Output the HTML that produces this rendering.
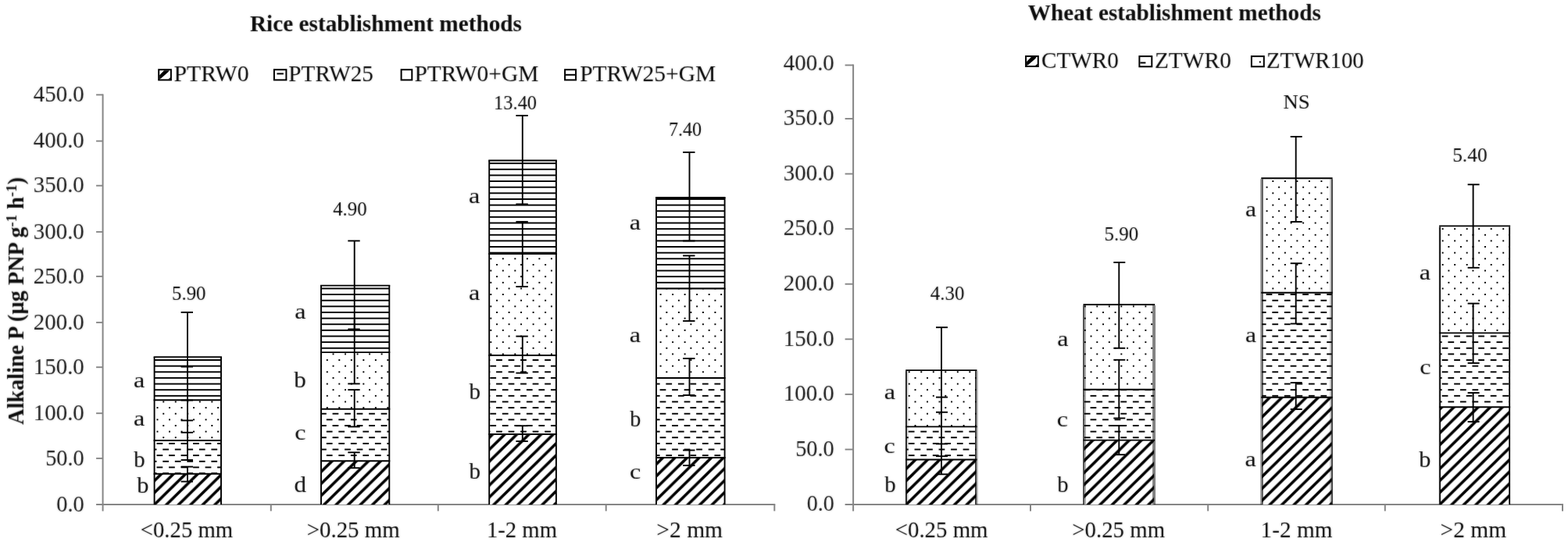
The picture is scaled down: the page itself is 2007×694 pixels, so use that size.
<!DOCTYPE html>
<html lang="en"><head><meta charset="utf-8"><title>Alkaline P chart</title>
<style>
html,body{margin:0;padding:0;background:#fff}
svg{display:block;font-family:'Liberation Serif', serif}
</style></head>
<body>
<svg width="2007" height="694" viewBox="0 0 2007 694">
<filter id="soft" x="0" y="0" width="2007" height="694" filterUnits="userSpaceOnUse" color-interpolation-filters="sRGB"><feGaussianBlur stdDeviation="0.8" result="b"/><feComposite in="SourceGraphic" in2="b" operator="arithmetic" k1="0" k2="0.65" k3="0.35" k4="0"/></filter>
<rect width="2007" height="694" fill="#fff"/>
<defs>
<pattern id="dots" patternUnits="userSpaceOnUse" x="14.29" y="2.156" width="15.52" height="15.264"><rect width="15.52" height="15.264" fill="#fff"/><rect x="0" y="0" width="1.94" height="1.908"/><rect x="7.76" y="7.632" width="1.94" height="1.908"/></pattern>
<pattern id="dash" patternUnits="userSpaceOnUse" x="14.29" y="2.156" width="15.52" height="15.264"><rect width="15.52" height="15.264" fill="#fff"/><rect x="0" y="0" width="7.76" height="1.908"/><rect x="7.76" y="7.632" width="7.76" height="1.908"/></pattern>
<pattern id="hl" patternUnits="userSpaceOnUse" x="14.29" y="2.156" width="15.52" height="15.264"><rect width="15.52" height="15.264" fill="#fff"/><rect x="0" y="0" width="15.52" height="1.908"/><rect x="0" y="7.632" width="15.52" height="1.908"/></pattern>
<pattern id="diag" patternUnits="userSpaceOnUse" x="4.858" y="8.976" width="15.52" height="15.264"><rect width="15.52" height="15.264" fill="#fff"/><polygon points="-15.52,15.264 -10.476,15.264 5.044,0 0,0"/><polygon points="0,15.264 5.044,15.264 20.564,0 15.52,0"/><polygon points="15.52,15.264 20.564,15.264 36.084,0 31.04,0"/></pattern>
</defs>
<line x1="131.6" y1="120.5" x2="131.6" y2="654.4" stroke="#868686" stroke-width="2"/>
<line x1="123.1" y1="646.1" x2="992.3" y2="646.1" stroke="#868686" stroke-width="2"/>
<line x1="123.1" y1="586.9" x2="131.6" y2="586.9" stroke="#868686" stroke-width="1.9"/>
<line x1="123.1" y1="529.2" x2="131.6" y2="529.2" stroke="#868686" stroke-width="1.9"/>
<line x1="123.1" y1="470.2" x2="131.6" y2="470.2" stroke="#868686" stroke-width="1.9"/>
<line x1="123.1" y1="412.9" x2="131.6" y2="412.9" stroke="#868686" stroke-width="1.9"/>
<line x1="123.1" y1="353.9" x2="131.6" y2="353.9" stroke="#868686" stroke-width="1.9"/>
<line x1="123.1" y1="296.9" x2="131.6" y2="296.9" stroke="#868686" stroke-width="1.9"/>
<line x1="123.1" y1="237.7" x2="131.6" y2="237.7" stroke="#868686" stroke-width="1.9"/>
<line x1="123.1" y1="180.6" x2="131.6" y2="180.6" stroke="#868686" stroke-width="1.9"/>
<line x1="123.1" y1="121.4" x2="131.6" y2="121.4" stroke="#868686" stroke-width="1.9"/>
<line x1="346.8" y1="646.1" x2="346.8" y2="654.4" stroke="#868686" stroke-width="2"/>
<line x1="560.8" y1="646.1" x2="560.8" y2="654.4" stroke="#868686" stroke-width="2"/>
<line x1="775.7" y1="646.1" x2="775.7" y2="654.4" stroke="#868686" stroke-width="2"/>
<line x1="991.3" y1="646.1" x2="991.3" y2="654.4" stroke="#868686" stroke-width="2"/>
<rect x="203.2" y="89.2" width="15.7" height="13.2" fill="#fff" stroke="#000" stroke-width="2"/>
<polygon points="204.2,96.2 210,90.2 216.6,90.2 215.5,92.1 206.5,100.1 204.2,101.4" fill="#000"/>
<polygon points="217.9,99.2 217.9,101.4 215.3,101.4" fill="#000"/>
<rect x="350.9" y="89.2" width="15.5" height="13.2" fill="#fff" stroke="#000" stroke-width="2"/>
<line x1="354.4" y1="94.4" x2="362.9" y2="94.4" stroke="#000" stroke-width="2"/>
<rect x="513.6" y="89.2" width="13.7" height="13.2" fill="#fff" stroke="#000" stroke-width="2"/>
<rect x="723.1" y="89.2" width="14" height="13.2" fill="#fff" stroke="#000" stroke-width="2"/>
<line x1="723.1" y1="95.8" x2="737.1" y2="95.8" stroke="#000" stroke-width="2"/>
<rect x="197.6" y="606.8" width="85.4" height="39.3" fill="url(#diag)"/>
<rect x="197.6" y="564" width="85.4" height="42.8" fill="url(#dash)"/>
<rect x="197.6" y="512.3" width="85.4" height="51.7" fill="url(#dots)"/>
<rect x="197.6" y="457.1" width="85.4" height="55.2" fill="url(#hl)"/>
<line x1="196.65" y1="606.8" x2="283.95" y2="606.8" stroke="#000" stroke-width="1.9"/>
<line x1="196.65" y1="564" x2="283.95" y2="564" stroke="#000" stroke-width="1.9"/>
<line x1="196.65" y1="512.3" x2="283.95" y2="512.3" stroke="#000" stroke-width="1.9"/>
<line x1="196.65" y1="457.1" x2="283.95" y2="457.1" stroke="#000" stroke-width="1.9"/>
<line x1="197.6" y1="646.1" x2="197.6" y2="457.1" stroke="#000" stroke-width="1.9"/>
<line x1="283" y1="646.1" x2="283" y2="457.1" stroke="#000" stroke-width="1.9"/>
<rect x="411" y="590.2" width="87.3" height="55.9" fill="url(#diag)"/>
<rect x="411" y="523.8" width="87.3" height="66.4" fill="url(#dash)"/>
<rect x="411" y="451.1" width="87.3" height="72.7" fill="url(#dots)"/>
<rect x="411" y="365.6" width="87.3" height="85.5" fill="url(#hl)"/>
<line x1="410.05" y1="590.2" x2="499.25" y2="590.2" stroke="#000" stroke-width="1.9"/>
<line x1="410.05" y1="523.8" x2="499.25" y2="523.8" stroke="#000" stroke-width="1.9"/>
<line x1="410.05" y1="451.1" x2="499.25" y2="451.1" stroke="#000" stroke-width="1.9"/>
<line x1="410.05" y1="365.6" x2="499.25" y2="365.6" stroke="#000" stroke-width="1.9"/>
<line x1="411" y1="646.1" x2="411" y2="365.6" stroke="#000" stroke-width="1.9"/>
<line x1="498.3" y1="646.1" x2="498.3" y2="365.6" stroke="#000" stroke-width="1.9"/>
<rect x="626.2" y="556" width="85.7" height="90.1" fill="url(#diag)"/>
<rect x="626.2" y="455" width="85.7" height="101" fill="url(#dash)"/>
<rect x="626.2" y="325" width="85.7" height="130" fill="url(#dots)"/>
<rect x="626.2" y="205.5" width="85.7" height="119.5" fill="url(#hl)"/>
<line x1="625.25" y1="556" x2="712.85" y2="556" stroke="#000" stroke-width="1.9"/>
<line x1="625.25" y1="455" x2="712.85" y2="455" stroke="#000" stroke-width="1.9"/>
<line x1="625.25" y1="325" x2="712.85" y2="325" stroke="#000" stroke-width="1.9"/>
<line x1="625.25" y1="205.5" x2="712.85" y2="205.5" stroke="#000" stroke-width="1.9"/>
<line x1="626.2" y1="646.1" x2="626.2" y2="205.5" stroke="#000" stroke-width="1.9"/>
<line x1="711.9" y1="646.1" x2="711.9" y2="205.5" stroke="#000" stroke-width="1.9"/>
<rect x="840" y="586" width="87.6" height="60.1" fill="url(#diag)"/>
<rect x="840" y="484" width="87.6" height="102" fill="url(#dash)"/>
<rect x="840" y="369.6" width="87.6" height="114.4" fill="url(#dots)"/>
<rect x="840" y="253" width="87.6" height="116.6" fill="url(#hl)"/>
<line x1="839.05" y1="586" x2="928.55" y2="586" stroke="#000" stroke-width="1.9"/>
<line x1="839.05" y1="484" x2="928.55" y2="484" stroke="#000" stroke-width="1.9"/>
<line x1="839.05" y1="369.6" x2="928.55" y2="369.6" stroke="#000" stroke-width="1.9"/>
<line x1="839.05" y1="253" x2="928.55" y2="253" stroke="#000" stroke-width="1.9"/>
<line x1="840" y1="646.1" x2="840" y2="253" stroke="#000" stroke-width="1.9"/>
<line x1="927.6" y1="646.1" x2="927.6" y2="253" stroke="#000" stroke-width="1.9"/>
<line x1="240" y1="399.9" x2="240" y2="512.5" stroke="#000" stroke-width="1.9"/>
<line x1="231.6" y1="399.9" x2="247" y2="399.9" stroke="#000" stroke-width="1.9"/>
<line x1="231.6" y1="512.5" x2="247" y2="512.5" stroke="#000" stroke-width="1.9"/>
<line x1="240" y1="469.6" x2="240" y2="553.8" stroke="#000" stroke-width="1.9"/>
<line x1="231.6" y1="469.6" x2="247" y2="469.6" stroke="#000" stroke-width="1.9"/>
<line x1="231.6" y1="553.8" x2="247" y2="553.8" stroke="#000" stroke-width="1.9"/>
<line x1="240" y1="538.4" x2="240" y2="589" stroke="#000" stroke-width="1.9"/>
<line x1="231.6" y1="538.4" x2="247" y2="538.4" stroke="#000" stroke-width="1.9"/>
<line x1="231.6" y1="589" x2="247" y2="589" stroke="#000" stroke-width="1.9"/>
<line x1="240" y1="597.6" x2="240" y2="616.6" stroke="#000" stroke-width="1.9"/>
<line x1="231.6" y1="597.6" x2="247" y2="597.6" stroke="#000" stroke-width="1.9"/>
<line x1="231.6" y1="616.6" x2="247" y2="616.6" stroke="#000" stroke-width="1.9"/>
<line x1="453.7" y1="308.4" x2="453.7" y2="421.5" stroke="#000" stroke-width="1.9"/>
<line x1="445.3" y1="308.4" x2="460.7" y2="308.4" stroke="#000" stroke-width="1.9"/>
<line x1="445.3" y1="421.5" x2="460.7" y2="421.5" stroke="#000" stroke-width="1.9"/>
<line x1="453.7" y1="409" x2="453.7" y2="491.4" stroke="#000" stroke-width="1.9"/>
<line x1="445.3" y1="491.4" x2="460.7" y2="491.4" stroke="#000" stroke-width="1.9"/>
<line x1="453.7" y1="499.1" x2="453.7" y2="546.4" stroke="#000" stroke-width="1.9"/>
<line x1="445.3" y1="499.1" x2="460.7" y2="499.1" stroke="#000" stroke-width="1.9"/>
<line x1="445.3" y1="546.4" x2="460.7" y2="546.4" stroke="#000" stroke-width="1.9"/>
<line x1="453.7" y1="579.3" x2="453.7" y2="599.2" stroke="#000" stroke-width="1.9"/>
<line x1="445.3" y1="579.3" x2="460.7" y2="579.3" stroke="#000" stroke-width="1.9"/>
<line x1="445.3" y1="599.2" x2="460.7" y2="599.2" stroke="#000" stroke-width="1.9"/>
<line x1="668.8" y1="148" x2="668.8" y2="261.4" stroke="#000" stroke-width="1.9"/>
<line x1="660.4" y1="148" x2="675.8" y2="148" stroke="#000" stroke-width="1.9"/>
<line x1="660.4" y1="261.4" x2="675.8" y2="261.4" stroke="#000" stroke-width="1.9"/>
<line x1="668.8" y1="283.9" x2="668.8" y2="367" stroke="#000" stroke-width="1.9"/>
<line x1="660.4" y1="283.9" x2="675.8" y2="283.9" stroke="#000" stroke-width="1.9"/>
<line x1="660.4" y1="367" x2="675.8" y2="367" stroke="#000" stroke-width="1.9"/>
<line x1="668.8" y1="430.6" x2="668.8" y2="477.6" stroke="#000" stroke-width="1.9"/>
<line x1="660.4" y1="430.6" x2="675.8" y2="430.6" stroke="#000" stroke-width="1.9"/>
<line x1="660.4" y1="477.6" x2="675.8" y2="477.6" stroke="#000" stroke-width="1.9"/>
<line x1="668.8" y1="545.2" x2="668.8" y2="565" stroke="#000" stroke-width="1.9"/>
<line x1="660.4" y1="545.2" x2="675.8" y2="545.2" stroke="#000" stroke-width="1.9"/>
<line x1="660.4" y1="565" x2="675.8" y2="565" stroke="#000" stroke-width="1.9"/>
<line x1="882.5" y1="195" x2="882.5" y2="308.5" stroke="#000" stroke-width="1.9"/>
<line x1="874.1" y1="195" x2="889.5" y2="195" stroke="#000" stroke-width="1.9"/>
<line x1="874.1" y1="308.5" x2="889.5" y2="308.5" stroke="#000" stroke-width="1.9"/>
<line x1="882.5" y1="327.4" x2="882.5" y2="411" stroke="#000" stroke-width="1.9"/>
<line x1="874.1" y1="327.4" x2="889.5" y2="327.4" stroke="#000" stroke-width="1.9"/>
<line x1="874.1" y1="411" x2="889.5" y2="411" stroke="#000" stroke-width="1.9"/>
<line x1="882.5" y1="459" x2="882.5" y2="506" stroke="#000" stroke-width="1.9"/>
<line x1="874.1" y1="459" x2="889.5" y2="459" stroke="#000" stroke-width="1.9"/>
<line x1="874.1" y1="506" x2="889.5" y2="506" stroke="#000" stroke-width="1.9"/>
<line x1="882.5" y1="576.5" x2="882.5" y2="596" stroke="#000" stroke-width="1.9"/>
<line x1="874.1" y1="576.5" x2="889.5" y2="576.5" stroke="#000" stroke-width="1.9"/>
<line x1="874.1" y1="596" x2="889.5" y2="596" stroke="#000" stroke-width="1.9"/>
<line x1="1092.1" y1="82.45" x2="1092.1" y2="654.4" stroke="#868686" stroke-width="2"/>
<line x1="1081.6" y1="646.1" x2="2001" y2="646.1" stroke="#868686" stroke-width="2"/>
<line x1="1081.6" y1="575.5" x2="1092.1" y2="575.5" stroke="#868686" stroke-width="1.9"/>
<line x1="1081.6" y1="504.9" x2="1092.1" y2="504.9" stroke="#868686" stroke-width="1.9"/>
<line x1="1081.6" y1="434.3" x2="1092.1" y2="434.3" stroke="#868686" stroke-width="1.9"/>
<line x1="1081.6" y1="363.7" x2="1092.1" y2="363.7" stroke="#868686" stroke-width="1.9"/>
<line x1="1081.6" y1="293.1" x2="1092.1" y2="293.1" stroke="#868686" stroke-width="1.9"/>
<line x1="1081.6" y1="222.6" x2="1092.1" y2="222.6" stroke="#868686" stroke-width="1.9"/>
<line x1="1081.6" y1="152" x2="1092.1" y2="152" stroke="#868686" stroke-width="1.9"/>
<line x1="1081.6" y1="83.45" x2="1092.1" y2="83.45" stroke="#868686" stroke-width="1.9"/>
<line x1="1319" y1="646.1" x2="1319" y2="654.4" stroke="#868686" stroke-width="2"/>
<line x1="1546.2" y1="646.1" x2="1546.2" y2="654.4" stroke="#868686" stroke-width="2"/>
<line x1="1772.8" y1="646.1" x2="1772.8" y2="654.4" stroke="#868686" stroke-width="2"/>
<line x1="2000" y1="646.1" x2="2000" y2="654.4" stroke="#868686" stroke-width="2"/>
<rect x="1313.1" y="72" width="15.7" height="13" fill="#fff" stroke="#000" stroke-width="2"/>
<polygon points="1314.1,79 1319.9,73 1326.5,73 1325.4,74.9 1316.4,82.7 1314.1,84" fill="#000"/>
<polygon points="1327.8,81.8 1327.8,84 1325.2,84" fill="#000"/>
<rect x="1458.4" y="72.1" width="15.9" height="13.2" fill="#fff" stroke="#000" stroke-width="2"/>
<line x1="1459.4" y1="80.4" x2="1466.4" y2="80.4" stroke="#000" stroke-width="2"/>
<rect x="1601.9" y="72.1" width="15.9" height="13.2" fill="#fff" stroke="#000" stroke-width="2"/>
<rect x="1611.8" y="78.4" width="2" height="2" fill="#000"/>
<rect x="1160.2" y="588.5" width="89.3" height="57.6" fill="url(#diag)"/>
<rect x="1160.2" y="546.4" width="89.3" height="42.1" fill="url(#dash)"/>
<rect x="1160.2" y="474.1" width="89.3" height="72.3" fill="url(#dots)"/>
<line x1="1159.2" y1="588.5" x2="1250.5" y2="588.5" stroke="#000" stroke-width="1.9"/>
<line x1="1159.2" y1="546.4" x2="1250.5" y2="546.4" stroke="#000" stroke-width="1.9"/>
<line x1="1159.2" y1="474.1" x2="1250.5" y2="474.1" stroke="#000" stroke-width="1.9"/>
<rect x="1158.9" y="475.05" width="2.1" height="171.05" fill="#000" fill-opacity="0.82"/>
<rect x="1161" y="475.05" width="2" height="171.05" fill="#000" fill-opacity="0.12"/>
<rect x="1248" y="475.05" width="2.1" height="171.05" fill="#000" fill-opacity="0.75"/>
<rect x="1250.1" y="475.05" width="1.8" height="171.05" fill="#000" fill-opacity="0.27"/>
<rect x="1387.6" y="563.6" width="89.5" height="82.5" fill="url(#diag)"/>
<rect x="1387.6" y="498.8" width="89.5" height="64.8" fill="url(#dash)"/>
<rect x="1387.6" y="390" width="89.5" height="108.8" fill="url(#dots)"/>
<line x1="1386.6" y1="563.6" x2="1478.1" y2="563.6" stroke="#000" stroke-width="1.9"/>
<line x1="1386.6" y1="498.8" x2="1478.1" y2="498.8" stroke="#000" stroke-width="1.9"/>
<line x1="1386.6" y1="390" x2="1478.1" y2="390" stroke="#000" stroke-width="1.9"/>
<rect x="1386" y="390.95" width="2" height="255.15" fill="#000" fill-opacity="0.67"/>
<rect x="1388" y="390.95" width="2" height="255.15" fill="#000" fill-opacity="0.33"/>
<rect x="1475.1" y="390.95" width="2" height="255.15" fill="#000" fill-opacity="0.5"/>
<rect x="1477.1" y="390.95" width="1.95" height="255.15" fill="#000" fill-opacity="0.5"/>
<rect x="1615.3" y="508.8" width="89.3" height="137.3" fill="url(#diag)"/>
<rect x="1615.3" y="374.7" width="89.3" height="134.1" fill="url(#dash)"/>
<rect x="1615.3" y="228.3" width="89.3" height="146.4" fill="url(#dots)"/>
<line x1="1614.3" y1="508.8" x2="1705.6" y2="508.8" stroke="#000" stroke-width="1.9"/>
<line x1="1614.3" y1="374.7" x2="1705.6" y2="374.7" stroke="#000" stroke-width="1.9"/>
<line x1="1614.3" y1="228.3" x2="1705.6" y2="228.3" stroke="#000" stroke-width="1.9"/>
<rect x="1613.15" y="229.25" width="1.81" height="416.85" fill="#000" fill-opacity="0.4"/>
<rect x="1614.96" y="229.25" width="1.84" height="416.85" fill="#000" fill-opacity="0.67"/>
<rect x="1702.1" y="229.25" width="1.95" height="416.85" fill="#000" fill-opacity="0.23"/>
<rect x="1704.05" y="229.25" width="1.95" height="416.85" fill="#000" fill-opacity="0.73"/>
<rect x="1843.1" y="521.2" width="89.05" height="124.9" fill="url(#diag)"/>
<rect x="1843.1" y="426.4" width="89.05" height="94.8" fill="url(#dash)"/>
<rect x="1843.1" y="289.4" width="89.05" height="137" fill="url(#dots)"/>
<line x1="1842.1" y1="521.2" x2="1933.15" y2="521.2" stroke="#000" stroke-width="1.9"/>
<line x1="1842.1" y1="426.4" x2="1933.15" y2="426.4" stroke="#000" stroke-width="1.9"/>
<line x1="1842.1" y1="289.4" x2="1933.15" y2="289.4" stroke="#000" stroke-width="1.9"/>
<rect x="1841.4" y="290.35" width="0.7" height="355.75" fill="#000" fill-opacity="0.2"/>
<rect x="1842.1" y="290.35" width="1.96" height="355.75" fill="#000" fill-opacity="0.92"/>
<rect x="1931.2" y="290.35" width="1.9" height="355.75" fill="#000" fill-opacity="0.95"/>
<line x1="1205" y1="419.2" x2="1205" y2="527.8" stroke="#000" stroke-width="1.9"/>
<line x1="1198" y1="419.2" x2="1213" y2="419.2" stroke="#000" stroke-width="1.9"/>
<line x1="1198" y1="527.8" x2="1213" y2="527.8" stroke="#000" stroke-width="1.9"/>
<line x1="1205" y1="508.6" x2="1205" y2="584.2" stroke="#000" stroke-width="1.9"/>
<line x1="1198" y1="508.6" x2="1213" y2="508.6" stroke="#000" stroke-width="1.9"/>
<line x1="1198" y1="584.2" x2="1213" y2="584.2" stroke="#000" stroke-width="1.9"/>
<line x1="1205" y1="568.4" x2="1205" y2="607.3" stroke="#000" stroke-width="1.9"/>
<line x1="1198" y1="568.4" x2="1213" y2="568.4" stroke="#000" stroke-width="1.9"/>
<line x1="1198" y1="607.3" x2="1213" y2="607.3" stroke="#000" stroke-width="1.9"/>
<line x1="1432.3" y1="336" x2="1432.3" y2="445.8" stroke="#000" stroke-width="1.9"/>
<line x1="1425.3" y1="336" x2="1440.3" y2="336" stroke="#000" stroke-width="1.9"/>
<line x1="1425.3" y1="445.8" x2="1440.3" y2="445.8" stroke="#000" stroke-width="1.9"/>
<line x1="1432.3" y1="460.8" x2="1432.3" y2="535.5" stroke="#000" stroke-width="1.9"/>
<line x1="1425.3" y1="460.8" x2="1440.3" y2="460.8" stroke="#000" stroke-width="1.9"/>
<line x1="1425.3" y1="535.5" x2="1440.3" y2="535.5" stroke="#000" stroke-width="1.9"/>
<line x1="1432.3" y1="545" x2="1432.3" y2="582.2" stroke="#000" stroke-width="1.9"/>
<line x1="1425.3" y1="545" x2="1440.3" y2="545" stroke="#000" stroke-width="1.9"/>
<line x1="1425.3" y1="582.2" x2="1440.3" y2="582.2" stroke="#000" stroke-width="1.9"/>
<line x1="1658.7" y1="175" x2="1658.7" y2="284" stroke="#000" stroke-width="1.9"/>
<line x1="1651.7" y1="175" x2="1666.7" y2="175" stroke="#000" stroke-width="1.9"/>
<line x1="1651.7" y1="284" x2="1666.7" y2="284" stroke="#000" stroke-width="1.9"/>
<line x1="1658.7" y1="337.2" x2="1658.7" y2="414.5" stroke="#000" stroke-width="1.9"/>
<line x1="1651.7" y1="337.2" x2="1666.7" y2="337.2" stroke="#000" stroke-width="1.9"/>
<line x1="1651.7" y1="414.5" x2="1666.7" y2="414.5" stroke="#000" stroke-width="1.9"/>
<line x1="1658.7" y1="490" x2="1658.7" y2="524" stroke="#000" stroke-width="1.9"/>
<line x1="1651.7" y1="490" x2="1666.7" y2="490" stroke="#000" stroke-width="1.9"/>
<line x1="1651.7" y1="524" x2="1666.7" y2="524" stroke="#000" stroke-width="1.9"/>
<line x1="1885.6" y1="236.3" x2="1885.6" y2="342.8" stroke="#000" stroke-width="1.9"/>
<line x1="1878.6" y1="236.3" x2="1893.6" y2="236.3" stroke="#000" stroke-width="1.9"/>
<line x1="1878.6" y1="342.8" x2="1893.6" y2="342.8" stroke="#000" stroke-width="1.9"/>
<line x1="1885.6" y1="388.6" x2="1885.6" y2="464.9" stroke="#000" stroke-width="1.9"/>
<line x1="1878.6" y1="388.6" x2="1893.6" y2="388.6" stroke="#000" stroke-width="1.9"/>
<line x1="1878.6" y1="464.9" x2="1893.6" y2="464.9" stroke="#000" stroke-width="1.9"/>
<line x1="1885.6" y1="503" x2="1885.6" y2="540" stroke="#000" stroke-width="1.9"/>
<line x1="1878.6" y1="503" x2="1893.6" y2="503" stroke="#000" stroke-width="1.9"/>
<line x1="1878.6" y1="540" x2="1893.6" y2="540" stroke="#000" stroke-width="1.9"/>
<g filter="url(#soft)" fill-opacity="1.0">
<text x="107.8" y="654.8" font-size="29.3" text-anchor="end" fill="#111" textLength="35.6" lengthAdjust="spacingAndGlyphs">0.0</text>
<text x="107.8" y="595.6" font-size="29.3" text-anchor="end" fill="#111" textLength="49.6" lengthAdjust="spacingAndGlyphs">50.0</text>
<text x="107.8" y="537.9" font-size="29.3" text-anchor="end" fill="#111" textLength="65" lengthAdjust="spacingAndGlyphs">100.0</text>
<text x="107.8" y="478.9" font-size="29.3" text-anchor="end" fill="#111" textLength="65" lengthAdjust="spacingAndGlyphs">150.0</text>
<text x="107.8" y="421.6" font-size="29.3" text-anchor="end" fill="#111" textLength="65" lengthAdjust="spacingAndGlyphs">200.0</text>
<text x="107.8" y="362.6" font-size="29.3" text-anchor="end" fill="#111" textLength="65" lengthAdjust="spacingAndGlyphs">250.0</text>
<text x="107.8" y="305.6" font-size="29.3" text-anchor="end" fill="#111" textLength="65" lengthAdjust="spacingAndGlyphs">300.0</text>
<text x="107.8" y="246.4" font-size="29.3" text-anchor="end" fill="#111" textLength="65" lengthAdjust="spacingAndGlyphs">350.0</text>
<text x="107.8" y="189.3" font-size="29.3" text-anchor="end" fill="#111" textLength="65" lengthAdjust="spacingAndGlyphs">400.0</text>
<text x="107.8" y="130.1" font-size="29.3" text-anchor="end" fill="#111" textLength="65" lengthAdjust="spacingAndGlyphs">450.0</text>
<text transform="translate(30,543.8) rotate(-90)" font-size="28.4" font-weight="bold" fill-opacity="0.97" textLength="317" lengthAdjust="spacingAndGlyphs">Alkaline P (µg PNP g<tspan font-size="19" dy="-9.5">-1</tspan><tspan dy="9.5"> h</tspan><tspan font-size="19" dy="-9.5">-1</tspan><tspan dy="9.5">)</tspan></text>
<text x="1067.8" y="654.3" font-size="29.3" text-anchor="end" fill="#111" textLength="35" lengthAdjust="spacingAndGlyphs">0.0</text>
<text x="1067.8" y="583.7" font-size="29.3" text-anchor="end" fill="#111" textLength="49.6" lengthAdjust="spacingAndGlyphs">50.0</text>
<text x="1067.8" y="513.1" font-size="29.3" text-anchor="end" fill="#111" textLength="65" lengthAdjust="spacingAndGlyphs">100.0</text>
<text x="1067.8" y="442.5" font-size="29.3" text-anchor="end" fill="#111" textLength="65" lengthAdjust="spacingAndGlyphs">150.0</text>
<text x="1067.8" y="371.9" font-size="29.3" text-anchor="end" fill="#111" textLength="65" lengthAdjust="spacingAndGlyphs">200.0</text>
<text x="1067.8" y="301.3" font-size="29.3" text-anchor="end" fill="#111" textLength="65" lengthAdjust="spacingAndGlyphs">250.0</text>
<text x="1067.8" y="230.8" font-size="29.3" text-anchor="end" fill="#111" textLength="65" lengthAdjust="spacingAndGlyphs">300.0</text>
<text x="1067.8" y="160.2" font-size="29.3" text-anchor="end" fill="#111" textLength="65" lengthAdjust="spacingAndGlyphs">350.0</text>
<text x="1067.8" y="89.7" font-size="29.3" text-anchor="end" fill="#111" textLength="65" lengthAdjust="spacingAndGlyphs">400.0</text>
<text x="319.928" y="40.046" font-size="28.6" font-weight="bold" fill-opacity="0.97" text-anchor="start" fill="#000" textLength="348.103" lengthAdjust="spacingAndGlyphs">Rice establishment methods</text>
<text x="1315.873" y="25.546" font-size="28.6" font-weight="bold" fill-opacity="0.97" text-anchor="start" fill="#000" textLength="374.991" lengthAdjust="spacingAndGlyphs">Wheat establishment methods</text>
<text x="222.435" y="103.891" font-size="28.6" text-anchor="start" fill="#000" textLength="96.16" lengthAdjust="spacingAndGlyphs">PTRW0</text>
<text x="369.351" y="103.73" font-size="28.6" text-anchor="start" fill="#000" textLength="108.6" lengthAdjust="spacingAndGlyphs">PTRW25</text>
<text x="530.397" y="103.877" font-size="28.6" text-anchor="start" fill="#000" textLength="158.967" lengthAdjust="spacingAndGlyphs">PTRW0+GM</text>
<text x="742.143" y="103.746" font-size="28.6" text-anchor="start" fill="#000" textLength="174.242" lengthAdjust="spacingAndGlyphs">PTRW25+GM</text>
<text x="1333.104" y="86.597" font-size="29" text-anchor="start" fill="#000" textLength="98.817" lengthAdjust="spacingAndGlyphs">CTWR0</text>
<text x="1477.937" y="86.597" font-size="29" text-anchor="start" fill="#000" textLength="97.911" lengthAdjust="spacingAndGlyphs">ZTWR0</text>
<text x="1621.041" y="86.597" font-size="29" text-anchor="start" fill="#000" textLength="124.731" lengthAdjust="spacingAndGlyphs">ZTWR100</text>
<text x="179.709" y="688.031" font-size="28.6" text-anchor="start" fill="#000" textLength="118.505" lengthAdjust="spacingAndGlyphs">&lt;0.25 mm</text>
<text x="392.649" y="688.017" font-size="28.6" text-anchor="start" fill="#000" textLength="119.15" lengthAdjust="spacingAndGlyphs">&gt;0.25 mm</text>
<text x="622.898" y="688.014" font-size="28.6" text-anchor="start" fill="#000" textLength="90.066" lengthAdjust="spacingAndGlyphs">1-2 mm</text>
<text x="840.37" y="688.033" font-size="28.6" text-anchor="start" fill="#000" textLength="84.728" lengthAdjust="spacingAndGlyphs">&gt;2 mm</text>
<text x="1145.699" y="688.028" font-size="28.6" text-anchor="start" fill="#000" textLength="118.831" lengthAdjust="spacingAndGlyphs">&lt;0.25 mm</text>
<text x="1372.32" y="688.033" font-size="28.6" text-anchor="start" fill="#000" textLength="118.765" lengthAdjust="spacingAndGlyphs">&gt;0.25 mm</text>
<text x="1613.63" y="688.033" font-size="28.6" text-anchor="start" fill="#000" textLength="91.822" lengthAdjust="spacingAndGlyphs">1-2 mm</text>
<text x="1843.621" y="688.033" font-size="28.6" text-anchor="start" fill="#000" textLength="84.573" lengthAdjust="spacingAndGlyphs">&gt;2 mm</text>
<text x="219.973" y="384.316" font-size="25.4" text-anchor="start" fill="#000" textLength="43.555" lengthAdjust="spacingAndGlyphs">5.90</text>
<text x="426.148" y="275.656" font-size="25.4" text-anchor="start" fill="#000" textLength="43.419" lengthAdjust="spacingAndGlyphs">4.90</text>
<text x="632.072" y="139.872" font-size="25.4" text-anchor="start" fill="#000" textLength="55.034" lengthAdjust="spacingAndGlyphs">13.40</text>
<text x="855.891" y="174.487" font-size="25.4" text-anchor="start" fill="#000" textLength="42.298" lengthAdjust="spacingAndGlyphs">7.40</text>
<text x="1190.86" y="384.485" font-size="25.4" text-anchor="start" fill="#000" textLength="43.604" lengthAdjust="spacingAndGlyphs">4.30</text>
<text x="1413.562" y="308.309" font-size="25.4" text-anchor="start" fill="#000" textLength="43.655" lengthAdjust="spacingAndGlyphs">5.90</text>
<text x="1642.503" y="139.373" font-size="25.4" text-anchor="start" fill="#000" textLength="34.199" lengthAdjust="spacingAndGlyphs">NS</text>
<text x="1859.126" y="207.071" font-size="25.4" text-anchor="start" fill="#000" textLength="44.468" lengthAdjust="spacingAndGlyphs">5.40</text>
<text x="171.121" y="495.601" font-size="26.4" text-anchor="start" fill="#000" textLength="14.3" lengthAdjust="spacingAndGlyphs">a</text>
<text x="171.121" y="545.431" font-size="26.4" text-anchor="start" fill="#000" textLength="14.3" lengthAdjust="spacingAndGlyphs">a</text>
<text x="171.292" y="598.322" font-size="28.8" text-anchor="start" fill="#000" textLength="14.437" lengthAdjust="spacingAndGlyphs">b</text>
<text x="175.301" y="630.512" font-size="28.8" text-anchor="start" fill="#000" textLength="15.259" lengthAdjust="spacingAndGlyphs">b</text>
<text x="377.147" y="408.104" font-size="26.4" text-anchor="start" fill="#000" textLength="14.3" lengthAdjust="spacingAndGlyphs">a</text>
<text x="376.15" y="496.032" font-size="28.8" text-anchor="start" fill="#000" textLength="15.579" lengthAdjust="spacingAndGlyphs">b</text>
<text x="377.333" y="562.792" font-size="26.4" text-anchor="start" fill="#000" textLength="14.3" lengthAdjust="spacingAndGlyphs">c</text>
<text x="376.587" y="630.048" font-size="28.8" text-anchor="start" fill="#000" textLength="15.525" lengthAdjust="spacingAndGlyphs">d</text>
<text x="600.072" y="259.603" font-size="26.4" text-anchor="start" fill="#000" textLength="14.3" lengthAdjust="spacingAndGlyphs">a</text>
<text x="600.072" y="383.773" font-size="26.4" text-anchor="start" fill="#000" textLength="14.3" lengthAdjust="spacingAndGlyphs">a</text>
<text x="600.403" y="511.322" font-size="28.8" text-anchor="start" fill="#000" textLength="14.53" lengthAdjust="spacingAndGlyphs">b</text>
<text x="600.403" y="613.102" font-size="28.8" text-anchor="start" fill="#000" textLength="14.53" lengthAdjust="spacingAndGlyphs">b</text>
<text x="805.769" y="294.305" font-size="26.4" text-anchor="start" fill="#000" textLength="14.3" lengthAdjust="spacingAndGlyphs">a</text>
<text x="805.769" y="437.625" font-size="26.4" text-anchor="start" fill="#000" textLength="14.3" lengthAdjust="spacingAndGlyphs">a</text>
<text x="806.344" y="545.584" font-size="28.8" text-anchor="start" fill="#000" textLength="14.114" lengthAdjust="spacingAndGlyphs">b</text>
<text x="806.07" y="613.274" font-size="26.4" text-anchor="start" fill="#000" textLength="14.3" lengthAdjust="spacingAndGlyphs">c</text>
<text x="1131.858" y="511.471" font-size="26.4" text-anchor="start" fill="#000" textLength="14.3" lengthAdjust="spacingAndGlyphs">a</text>
<text x="1131.575" y="580.282" font-size="26.4" text-anchor="start" fill="#000" textLength="14.3" lengthAdjust="spacingAndGlyphs">c</text>
<text x="1132.203" y="630.322" font-size="28.8" text-anchor="start" fill="#000" textLength="14.464" lengthAdjust="spacingAndGlyphs">b</text>
<text x="1353.292" y="443.105" font-size="26.4" text-anchor="start" fill="#000" textLength="14.3" lengthAdjust="spacingAndGlyphs">a</text>
<text x="1352.852" y="546.445" font-size="26.4" text-anchor="start" fill="#000" textLength="14.3" lengthAdjust="spacingAndGlyphs">c</text>
<text x="1353.3" y="630.324" font-size="28.8" text-anchor="start" fill="#000" textLength="14.358" lengthAdjust="spacingAndGlyphs">b</text>
<text x="1594.007" y="276.616" font-size="26.4" text-anchor="start" fill="#000" textLength="14.024" lengthAdjust="spacingAndGlyphs">a</text>
<text x="1594.007" y="437.936" font-size="26.4" text-anchor="start" fill="#000" textLength="14.024" lengthAdjust="spacingAndGlyphs">a</text>
<text x="1593.56" y="597.444" font-size="26.4" text-anchor="start" fill="#000" textLength="14.3" lengthAdjust="spacingAndGlyphs">a</text>
<text x="1816.755" y="357.65" font-size="26.4" text-anchor="start" fill="#000" textLength="14.3" lengthAdjust="spacingAndGlyphs">a</text>
<text x="1817.151" y="479.418" font-size="26.4" text-anchor="start" fill="#000" textLength="14.3" lengthAdjust="spacingAndGlyphs">c</text>
<text x="1816.365" y="598.034" font-size="28.8" text-anchor="start" fill="#000" textLength="15.182" lengthAdjust="spacingAndGlyphs">b</text>
</g>
</svg>
</body></html>
